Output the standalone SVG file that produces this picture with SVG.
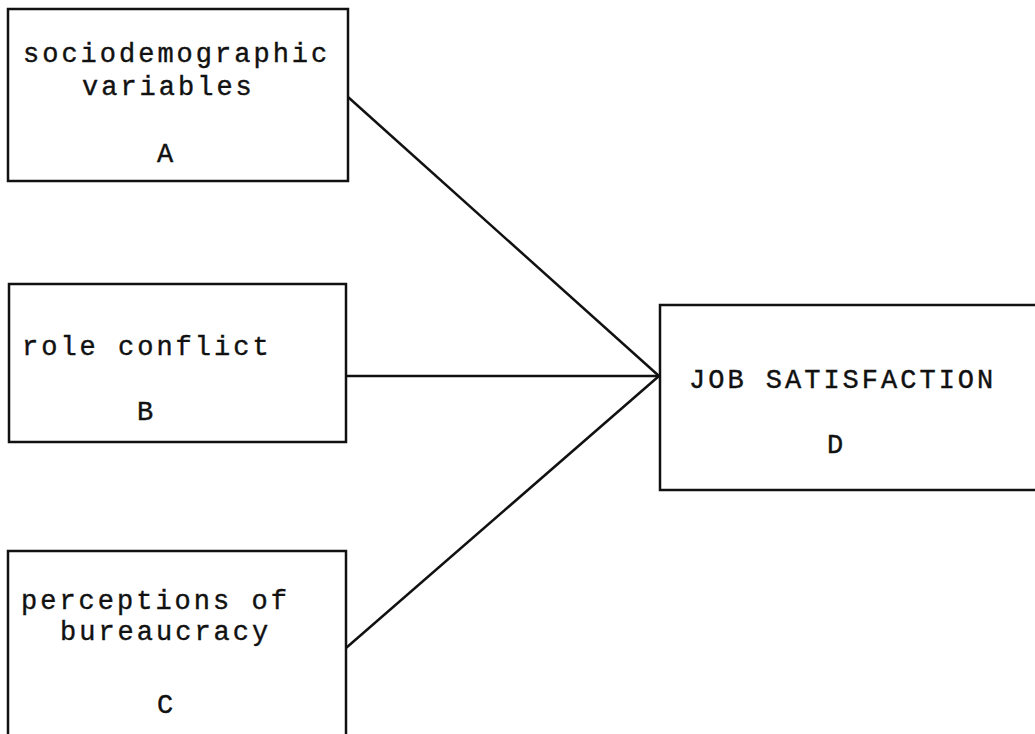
<svg xmlns="http://www.w3.org/2000/svg" width="1035" height="734" viewBox="0 0 1035 734">
<style>
.box{fill:none;stroke:#111;stroke-width:2.5}
.t{font-family:"Liberation Mono","Courier New",monospace;font-size:27px;letter-spacing:3px;fill:#111;stroke:#111;stroke-width:0.4}
.c{stroke:#111;stroke-width:2.5;fill:none}
</style>
<rect width="1035" height="734" fill="#fff"/>
<g id="nodeA">
<rect class="box" x="8" y="9" width="340" height="172"/>
<text class="t" x="23" y="62">sociodemographic</text>
<text class="t" x="82" y="95">variables</text>
<text class="t" x="157" y="162">A</text>
</g>
<g id="nodeB">
<rect class="box" x="9" y="284" width="337" height="158"/>
<text class="t" x="22" y="355">role conflict</text>
<text class="t" x="137" y="420">B</text>
</g>
<g id="nodeC">
<rect class="box" x="8" y="551" width="338" height="190"/>
<text class="t" x="21" y="609">perceptions of</text>
<text class="t" x="60" y="640">bureaucracy</text>
<text class="t" x="157" y="713">C</text>
</g>
<g id="nodeD">
<rect class="box" x="660" y="305" width="390" height="185"/>
<text class="t" x="689" y="388">JOB SATISFACTION</text>
<text class="t" x="827" y="453">D</text>
</g>
<g id="connectors">
<line class="c" x1="348" y1="97" x2="659" y2="376"/>
<line class="c" x1="346" y1="376" x2="659" y2="376"/>
<line class="c" x1="346" y1="648" x2="659" y2="376"/>
</g>
</svg>
